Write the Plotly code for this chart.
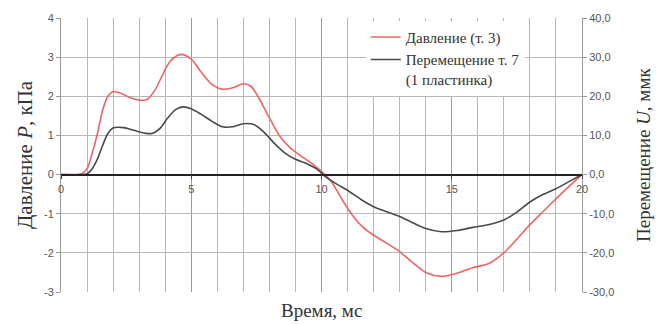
import plotly.graph_objects as go

# Pressure at point 3, kPa
t_p = [0, 0.5, 0.8, 1.0, 1.2, 1.4, 1.6, 1.8, 2.0, 2.3, 2.6, 3.0, 3.3, 3.6, 3.9, 4.2, 4.6,
       5.0, 5.4, 5.8, 6.2, 6.6, 7.0, 7.3, 7.6, 8.0, 8.4, 8.8, 9.2, 9.6, 10.0, 10.4, 10.8,
       11.2, 11.6, 12.0, 12.5, 13.0, 13.5, 14.0, 14.6, 15.2, 15.8, 16.4, 17.0, 17.5, 18.0,
       18.5, 19.0, 19.5, 20.0]
pressure = [0, 0, 0.02, 0.15, 0.55, 1.05, 1.65, 2.0, 2.12, 2.08, 1.98, 1.9, 1.92, 2.15, 2.55,
            2.9, 3.07, 2.95, 2.6, 2.3, 2.18, 2.22, 2.32, 2.25, 1.95, 1.45, 0.98, 0.68, 0.48,
            0.3, 0.08, -0.2, -0.65, -1.05, -1.35, -1.55, -1.75, -1.97, -2.25, -2.5, -2.6,
            -2.52, -2.38, -2.28, -2.0, -1.65, -1.28, -0.95, -0.62, -0.3, 0]

# Displacement at point 7 (1 plate), µm
t_u = [0, 0.8, 1.0, 1.2, 1.4, 1.6, 1.8, 2.0, 2.4, 2.8, 3.2, 3.5, 3.8, 4.1, 4.4, 4.7, 5.0,
       5.4, 5.8, 6.2, 6.6, 7.0, 7.4, 7.8, 8.2, 8.6, 9.0, 9.4, 9.8, 10.2, 10.6, 11.0, 11.5,
       12.0, 12.5, 13.0, 13.5, 14.0, 14.6, 15.2, 15.8, 16.4, 17.0, 17.5, 18.0, 18.5, 19.0,
       19.5, 20.0]
displacement = [0, 0, 0.2, 1.5, 4.0, 7.5, 10.5, 11.9, 12.0, 11.3, 10.6, 10.5, 11.8, 14.5,
                16.6, 17.3, 16.8, 15.3, 13.6, 12.2, 12.2, 13.0, 12.8, 10.8, 7.9, 5.5, 3.9,
                2.9, 1.5, -0.8, -2.5, -4.0, -6.3, -8.2, -9.5, -10.7, -12.3, -13.8, -14.6,
                -14.3, -13.5, -12.8, -11.6, -9.6, -7.0, -5.1, -3.6, -1.8, 0]

# Axis ticks and their labels
x_ticks = [0, 5, 10, 15, 20]
p_ticks = [-3, -2, -1, 0, 1, 2, 3, 4]
p_labels = ["-3", "-2", "-1", "0", "1", "2", "3", "4"]
u_ticks = [-30, -20, -10, 0, 10, 20, 30, 40]
u_labels = ["-30,0", "-20,0", "-10,0", "0,0", "10,0", "20,0", "30,0", "40,0"]

p_range = [-3, 4]
u_range = [-30, 40]
x_range = [0, 20]

serif = "Liberation Serif, Times New Roman, serif"
sans = "Liberation Sans, Arial, sans-serif"
tick_font = dict(family=sans, size=11, color="#555555")
title_color = "#333333"

fig = go.Figure()
fig.add_trace(go.Scatter(
    x=t_p, y=pressure, mode="lines", name="Давление (т. 3)",
    line=dict(color="#ef6464", width=1.6, shape="spline", smoothing=0.8),
    yaxis="y",
))
fig.add_trace(go.Scatter(
    x=t_u, y=displacement, mode="lines", name="Перемещение т. 7<br>(1 пластинка)",
    line=dict(color="#4a4a4a", width=1.6, shape="spline", smoothing=0.8),
    yaxis="y2",
))

fig.update_layout(
    width=659, height=324,
    margin=dict(l=61, r=77, t=13, b=32),
    paper_bgcolor="white", plot_bgcolor="white",
    showlegend=True,
    legend=dict(
        x=0.585, y=0.99, xanchor="left", yanchor="top",
        bgcolor="white", borderwidth=0,
        font=dict(family=serif, size=15, color=title_color),
        valign="top", tracegroupgap=0, itemwidth=30,
    ),
    xaxis=dict(
        range=x_range, tickvals=x_ticks,
        anchor="free", position=(0 - p_range[0]) / (p_range[1] - p_range[0]),
        showline=True, linecolor="#222222", linewidth=1.5,
        ticks="outside", ticklen=4, tickcolor="#444444",
        tickfont=tick_font,
        showgrid=True, gridcolor="#9a9a9a", gridwidth=1,
        minor=dict(dtick=1, tick0=0, showgrid=True, gridcolor="#b8b8b8", gridwidth=1),
        zeroline=False,
    ),
    yaxis=dict(
        range=p_range, tickvals=p_ticks, ticktext=p_labels,
        showline=True, linecolor="#999999", linewidth=1,
        ticks="outside", ticklen=4, tickcolor="#999999",
        tickfont=tick_font,
        showgrid=True, gridcolor="#b8b8b8", gridwidth=1,
        zeroline=False,
    ),
    yaxis2=dict(
        range=u_range, tickvals=u_ticks, ticktext=u_labels,
        overlaying="y", side="right", anchor="x",
        showline=True, linecolor="#999999", linewidth=1,
        ticks="outside", ticklen=4, tickcolor="#999999",
        tickfont=tick_font,
        showgrid=False, zeroline=False,
    ),
    annotations=[
        dict(text="Давление <i>P</i>, кПа", xref="paper", yref="paper",
             x=0, y=0.5, xshift=-36, textangle=-90, showarrow=False,
             xanchor="center", yanchor="middle",
             font=dict(family=serif, size=21, color=title_color)),
        dict(text="Перемещение <i>U</i>, ммк", xref="paper", yref="paper",
             x=1, y=0.5, xshift=61, textangle=-90, showarrow=False,
             xanchor="center", yanchor="middle",
             font=dict(family=serif, size=19, color=title_color)),
        dict(text="Время, мс", xref="paper", yref="paper",
             x=0.5, y=0, yshift=-18, showarrow=False,
             xanchor="center", yanchor="middle",
             font=dict(family=serif, size=19, color=title_color)),
    ],
)

fig.write_html("out.html")
